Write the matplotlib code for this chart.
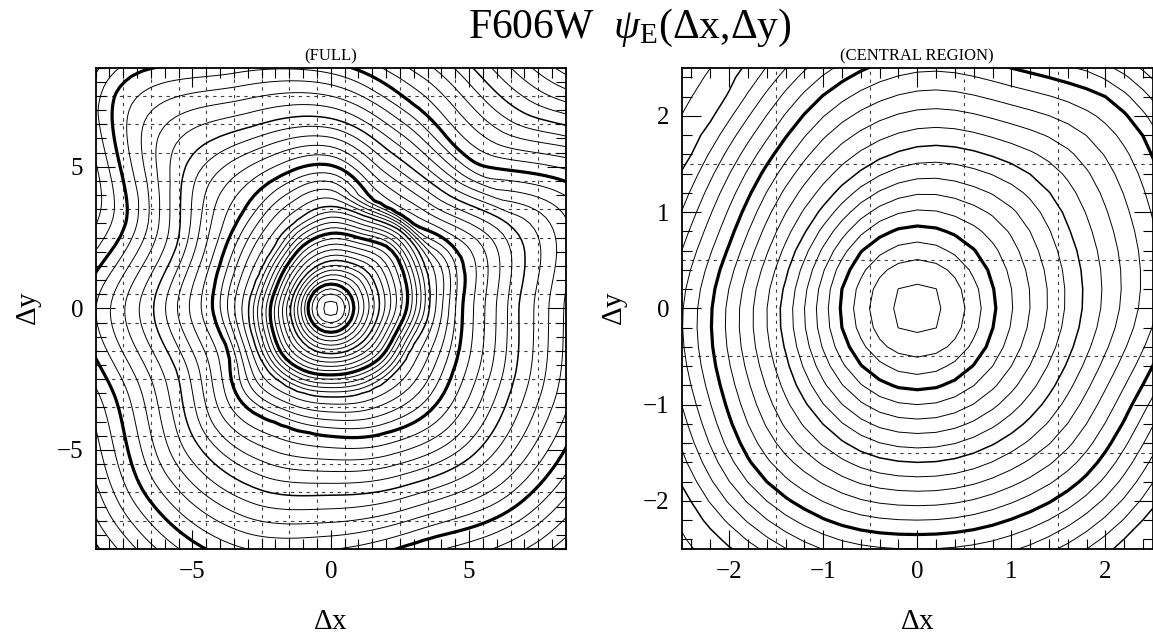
import numpy as np
import matplotlib
matplotlib.use("Agg")
import matplotlib.pyplot as plt
from matplotlib.ticker import MultipleLocator

plt.rcParams["font.family"] = ["Liberation Serif", "DejaVu Serif"]
plt.rcParams["mathtext.fontset"] = "custom"
plt.rcParams["mathtext.rm"] = "Liberation Serif"
plt.rcParams["mathtext.it"] = "Liberation Serif:italic"

# --- data ---------------------------------------------------------------
# log10(psi) of the peak, relative to the inner thick contour
peak_level = 0.35
# directions (deg) along which contour radii were measured
ray_angles = np.arange(0.0, 360.0, 22.5)
# contour levels (dex) that were traced, and their radius (pixels) on each ray
key_levels = [0.3, 0.2, 0.1, 0.0, -0.5, -1.0, -1.5, -2.0, -2.5, -3.0, -3.5, -4.0]
r_p03 = [0.29] * 16
r_p02 = [0.53] * 16
r_p01 = [0.68] * 16
r_m00 = [0.83, 0.84, 0.86, 0.86, 0.86, 0.85, 0.84, 0.83, 0.82, 0.83, 0.84, 0.85, 0.85, 0.85, 0.84, 0.83]
r_m05 = [1.75, 1.80, 1.85, 1.75, 1.67, 1.55, 1.45, 1.42, 1.45, 1.48, 1.55, 1.60, 1.60, 1.62, 1.65, 1.68]
r_m10 = [2.75, 2.90, 3.00, 2.70, 2.65, 2.45, 2.20, 2.10, 2.18, 2.25, 2.40, 2.40, 2.35, 2.40, 2.50, 2.50]
r_m15 = [3.55, 3.70, 3.75, 3.50, 3.60, 3.30, 2.95, 2.85, 2.95, 3.00, 3.15, 3.15, 3.10, 3.20, 3.25, 3.25]
r_m20 = [4.75, 5.00, 4.20, 4.10, 5.05, 5.00, 4.60, 4.30, 4.25, 4.00, 4.60, 4.47, 4.50, 4.80, 5.10, 4.90]
r_m25 = [6.80, 7.20, 5.80, 5.90, 6.70, 7.00, 7.30, 6.00, 6.40, 6.00, 6.80, 6.90, 6.60, 6.80, 7.30, 7.10]
r_m30 = [9.50, 10.2, 7.30, 7.80, 8.70, 9.50, 10.9, 8.00, 9.00, 8.40, 9.40, 9.60, 9.00, 8.85, 9.70, 9.80]
r_m35 = [12.0, 12.6, 9.80, 10.3, 11.2, 12.0, 13.4, 10.5, 11.5, 10.9, 11.9, 12.1, 11.5, 11.4, 12.2, 12.3]
r_m40 = [14.5, 15.0, 12.3, 12.8, 13.7, 14.5, 15.9, 13.0, 14.0, 13.4, 14.4, 14.6, 14.0, 13.9, 14.7, 14.8]
ring_radii = [r_p03, r_p02, r_p01, r_m00, r_m05, r_m10, r_m15, r_m20, r_m25, r_m30, r_m35, r_m40]

# contour levels drawn (0.1 dex apart), thick every decade
levels = np.round(np.arange(-3.9, 0.31, 0.1), 2)

full_grid_lines = np.arange(-7.5, 7.6, 1.0)
core_grid_lines = np.arange(-1.5, 1.6, 1.0)


def psf_field(x, y):
    """Build log10 psi on a grid from the contour radii along each ray."""
    r = np.hypot(x, y)
    th = np.degrees(np.arctan2(y, x)) % 360.0
    rad = np.array(ring_radii)
    nray = len(ray_angles)
    vals = np.empty((nray,) + r.shape)
    for j in range(nray):
        rr = np.concatenate([[0.0], rad[:, j]])
        ll = np.concatenate([[peak_level], key_levels])
        vals[j] = np.interp(r, rr, ll)
    step = 360.0 / nray
    pos = th / step
    j1 = np.floor(pos).astype(int) % nray
    t = pos - np.floor(pos)
    j0 = (j1 - 1) % nray
    j2 = (j1 + 1) % nray
    j3 = (j1 + 2) % nray
    p0 = np.take_along_axis(vals, j0[None], 0)[0]
    p1 = np.take_along_axis(vals, j1[None], 0)[0]
    p2 = np.take_along_axis(vals, j2[None], 0)[0]
    p3 = np.take_along_axis(vals, j3[None], 0)[0]
    # periodic Catmull-Rom between rays
    return 0.5 * ((2 * p1) + (-p0 + p2) * t + (2 * p0 - 5 * p1 + 4 * p2 - p3) * t ** 2
                  + (-p0 + 3 * p1 - 3 * p2 + p3) * t ** 3)


def line_widths(levs):
    out = []
    for lv in levs:
        k = int(round(lv * 10))
        if k % 10 == 0:
            out.append(2.3)
        elif k % 5 == 0:
            out.append(1.1)
        else:
            out.append(0.7)
    return out


def draw_panel(ax, half, major, minor, grid_at, step):
    n = int(round((half + 2 * step) / step))
    g = np.arange(-n, n + 1) * step
    X, Y = np.meshgrid(g, g)
    Z = psf_field(X, Y)
    for v in grid_at:
        ax.axvline(v, color="0.25", lw=0.8, ls=(0, (3, 4)), zorder=0)
        ax.axhline(v, color="0.25", lw=0.8, ls=(0, (3, 4)), zorder=0)
    ax.contour(X, Y, Z, levels=levels, colors="k", linewidths=line_widths(levels),
               linestyles="solid", zorder=2)
    ax.set_xlim(-half, half)
    ax.set_ylim(-half, half)
    ax.xaxis.set_major_locator(MultipleLocator(major))
    ax.yaxis.set_major_locator(MultipleLocator(major))
    ax.xaxis.set_minor_locator(MultipleLocator(minor))
    ax.yaxis.set_minor_locator(MultipleLocator(minor))
    ax.tick_params(which="both", direction="in", top=True, right=True, width=0.8)
    ax.tick_params(which="major", length=14, labelsize=18, pad=9)
    ax.tick_params(which="minor", length=7)
    for s in ax.spines.values():
        s.set_linewidth(1.3)


W, H = 1153, 639
fig = plt.figure(figsize=(W / 100, H / 100), dpi=100)
ax1 = fig.add_axes([95.5 / W, 1 - 549 / H, 470.5 / W, 481.3 / H])
ax2 = fig.add_axes([682 / W, 1 - 549 / H, 470.5 / W, 481.3 / H])

draw_panel(ax1, 8.5, 5, 0.5, full_grid_lines, 0.2)
draw_panel(ax2, 2.5, 1, 0.2, core_grid_lines, 0.2)

fig.text(630 / W, 1 - 38 / H, r"F606W  $\psi_{\rm E}$($\Delta$x,$\Delta$y)",
         fontsize=30, ha="center", va="baseline")
fig.text(330.7 / W, 1 - 56 / H, "(FULL)", fontsize=12, ha="center", va="center")
fig.text(917 / W, 1 - 56 / H, "(CENTRAL REGION)", fontsize=12, ha="center", va="center")
for xc in (330.7, 917):
    fig.text(xc / W, 1 - 622 / H, r"$\Delta$x", fontsize=21, ha="center", va="center")
for xc in (30, 616):
    fig.text(xc / W, 1 - 308 / H, r"$\Delta$y", fontsize=21, ha="center", va="center",
             rotation=90)

fig.savefig("out.png", dpi=100)
